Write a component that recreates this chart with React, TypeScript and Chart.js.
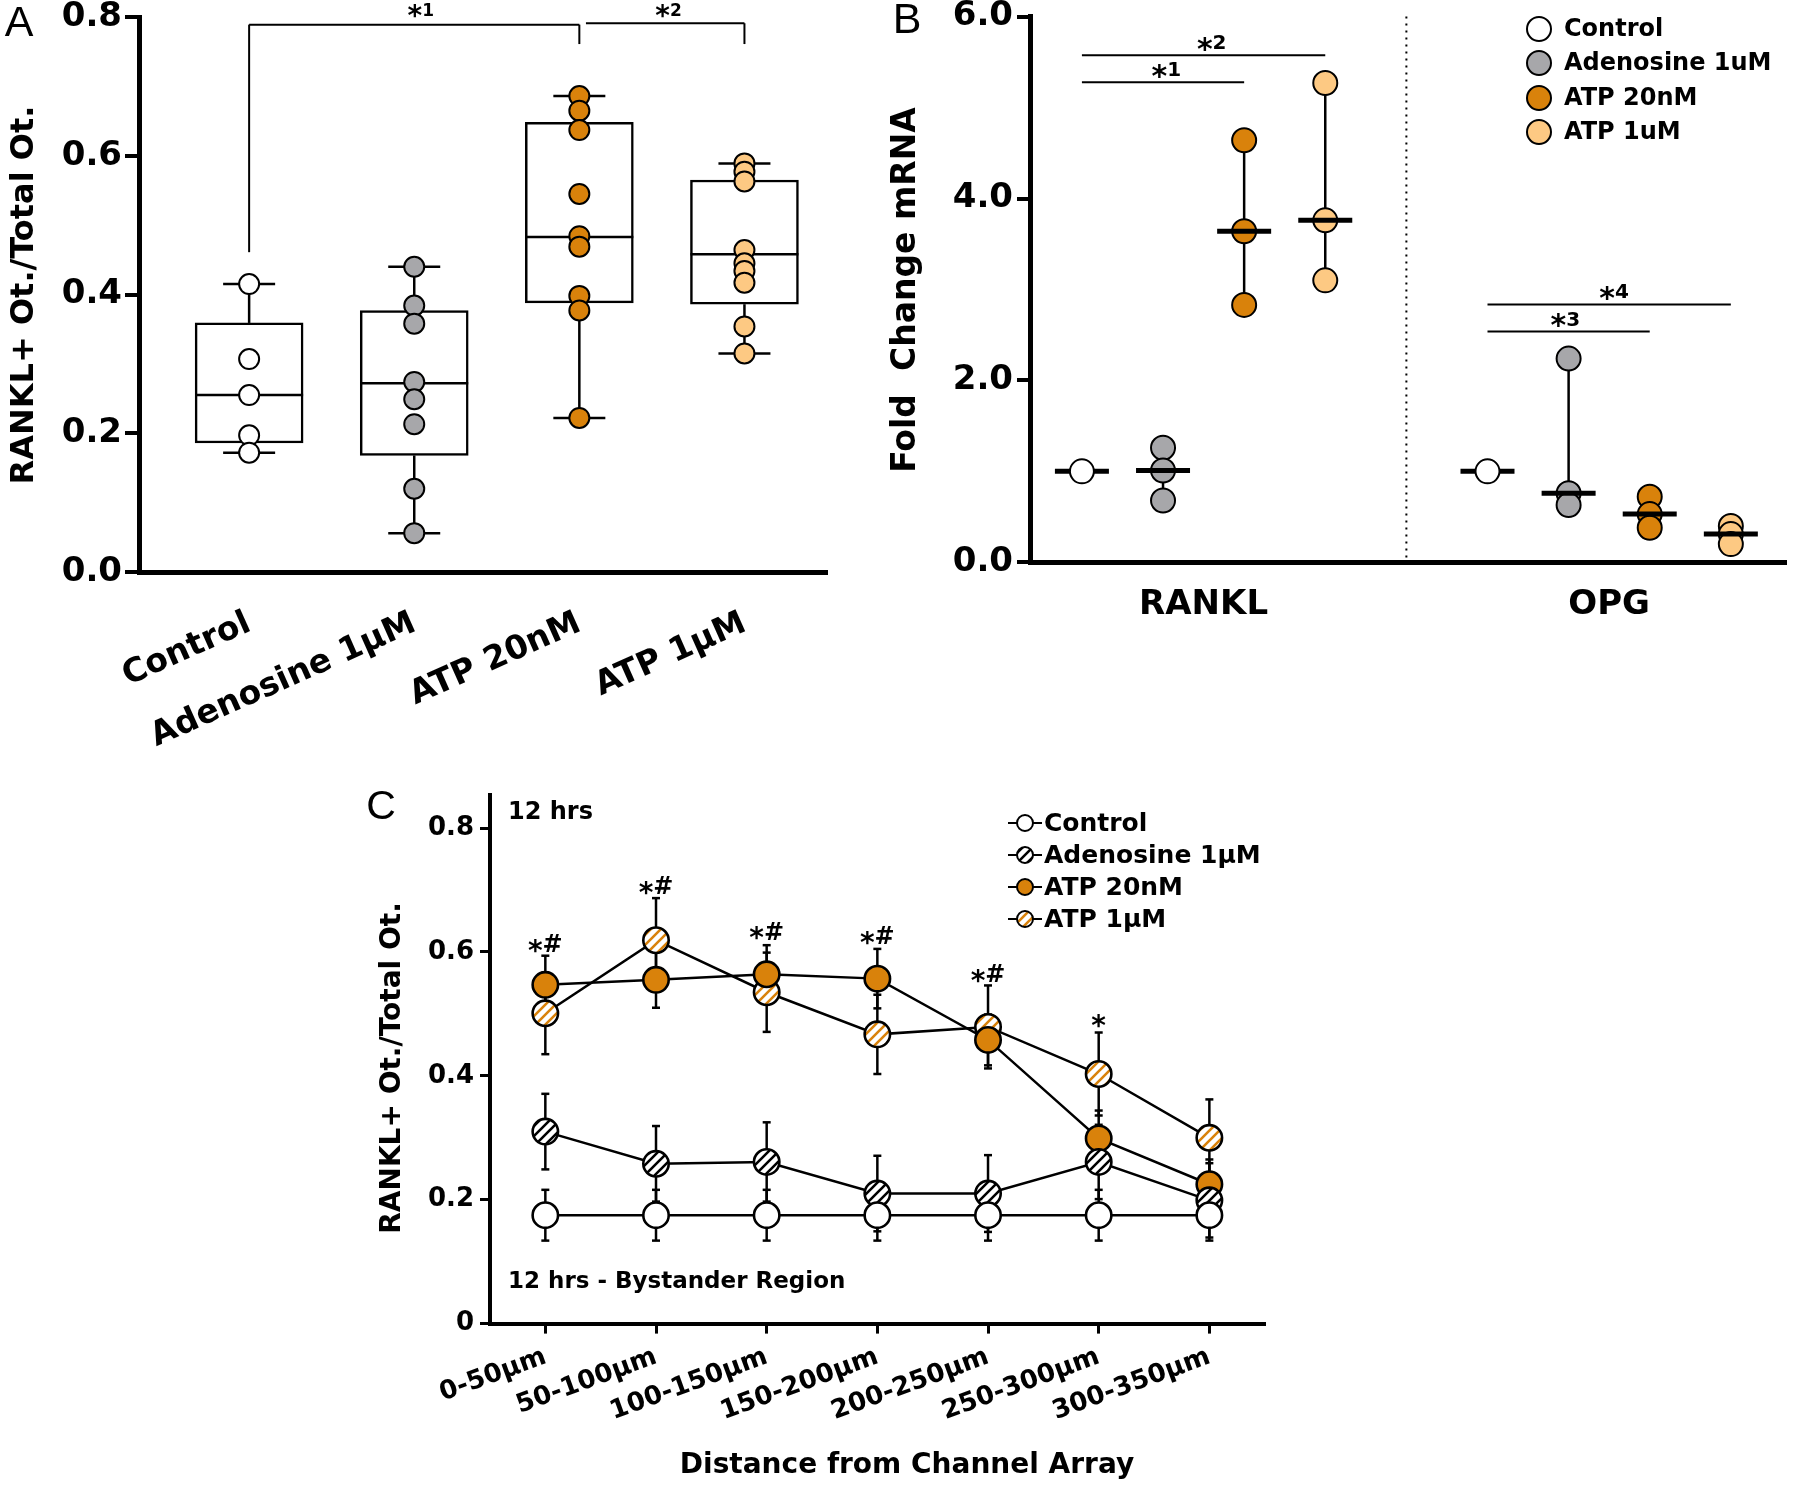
import React, { useEffect, useRef } from 'react';
import { Chart, registerables } from 'chart.js';

Chart.register(...registerables);

const FONT = '"DejaVu Sans", "Liberation Sans", Arial, sans-serif';
const LETTER_FONT = '"Liberation Sans", Arial, Helvetica, sans-serif';
const BLACK = '#000000';
const WHITE = '#ffffff';
const GRAY = '#a7a7aa';
const ORANGE = '#d9820b';
const LIGHT_ORANGE = '#fdc983';

// ===== Panel A : box plots =====
const A_GROUPS = ['Control', 'Adenosine 1μM', 'ATP 20nM', 'ATP 1μM'];
const A_CONTROL = [0.415, 0.307, 0.255, 0.197, 0.172];
const A_ADENOSINE = [0.44, 0.384, 0.358, 0.274, 0.249, 0.213, 0.12, 0.056];
const A_ATP_20NM = [0.686, 0.665, 0.637, 0.545, 0.484, 0.469, 0.398, 0.377, 0.222];
const A_ATP_1UM = [0.589, 0.577, 0.563, 0.464, 0.445, 0.434, 0.417, 0.354, 0.315];
const A_MIN = [0.172, 0.056, 0.222, 0.315];
const A_Q1 = [0.186, 0.168, 0.388, 0.386];
const A_MEDIAN = [0.255, 0.272, 0.483, 0.458];
const A_Q3 = [0.359, 0.377, 0.648, 0.565];
const A_MAX = [0.415, 0.44, 0.686, 0.589];
const A_Y_TICKS = [0, 0.2, 0.4, 0.6, 0.8];
const A_SIG_LABELS = ['*1', '*2'];
const A_SIG_FROM = [0, 2.04];
const A_SIG_TO = [2, 3];
const A_SIG_LEVEL = [0.789, 0.791];
const A_SIG_LEFT_END = [0.461, 0.791];
const A_SIG_RIGHT_END = [0.761, 0.761];
const A_SIG_LABEL_X = [1.04, 2.54];
const A_SIG_LABEL_Y = [0.808, 0.808];

// ===== Panel B : fold change mRNA =====
const B_GENES = ['RANKL', 'OPG'];
const B_SERIES = ['Control', 'Adenosine 1uM', 'ATP 20nM', 'ATP 1uM'];
const B_CONTROL = [[1.0], [1.0]];
const B_ADENOSINE = [[1.26, 1.01, 0.68], [2.24, 0.76, 0.63]];
const B_ATP_20NM = [[4.64, 3.64, 2.83], [0.72, 0.53, 0.38]];
const B_ATP_1UM = [[5.27, 3.76, 3.1], [0.4, 0.31, 0.2]];
const B_MEDIAN_RANKL = [1.0, 1.01, 3.64, 3.76];
const B_MEDIAN_OPG = [1.0, 0.76, 0.53, 0.31];
const B_Y_TICKS = [0, 2, 4, 6];
const B_SIG_LABELS = ['*1', '*2', '*3', '*4'];
const B_SIG_FROM = [0, 0, 5, 5];
const B_SIG_TO = [2, 3, 7, 8];
const B_SIG_LEVEL = [5.278, 5.574, 2.539, 2.835];
const B_SIG_LABEL_X = [1.04, 1.6, 5.96, 6.56];
const B_SIG_LABEL_Y = [5.4, 5.7, 2.66, 2.96];

// ===== Panel C : distance profile =====
const C_BINS = ['0-50μm', '50-100μm', '100-150μm', '150-200μm', '200-250μm', '250-300μm', '300-350μm'];
const C_SERIES = ['Control', 'Adenosine 1μM', 'ATP 20nM', 'ATP 1μM'];
const C_CONTROL = [0.175, 0.175, 0.175, 0.175, 0.175, 0.175, 0.175];
const C_CONTROL_SEM = [0.041, 0.041, 0.041, 0.041, 0.041, 0.041, 0.041];
const C_ADENOSINE = [0.31, 0.258, 0.261, 0.21, 0.21, 0.261, 0.199];
const C_ADENOSINE_SEM = [0.061, 0.061, 0.064, 0.061, 0.062, 0.06, 0.06];
const C_ATP_20NM = [0.547, 0.555, 0.564, 0.557, 0.458, 0.299, 0.225];
const C_ATP_20NM_SEM = [0.047, 0.045, 0.047, 0.048, 0.041, 0.045, 0.04];
const C_ATP_1UM = [0.501, 0.619, 0.535, 0.467, 0.479, 0.403, 0.3];
const C_ATP_1UM_SEM = [0.066, 0.068, 0.064, 0.064, 0.067, 0.067, 0.062];
const C_SIG = ['*#', '*#', '*#', '*#', '*#', '*', ''];
const C_SIG_Y = [0.61, 0.704, 0.63, 0.623, 0.561, 0.488, 0];
const C_Y_TICKS = [0, 0.2, 0.4, 0.6, 0.8];

type Cfg = any;

function seg(ctx: CanvasRenderingContext2D, x1: number, y1: number, x2: number, y2: number) {
  ctx.beginPath();
  ctx.moveTo(x1, y1);
  ctx.lineTo(x2, y2);
  ctx.stroke();
}

function text(
  ctx: CanvasRenderingContext2D,
  s: string,
  x: number,
  y: number,
  size: number,
  opts: { weight?: string; align?: CanvasTextAlign; baseline?: CanvasTextBaseline; rotate?: number; family?: string } = {}
) {
  ctx.save();
  ctx.font = `${opts.weight ?? 'bold'} ${size}px ${opts.family ?? FONT}`;
  ctx.fillStyle = BLACK;
  ctx.textAlign = opts.align ?? 'center';
  ctx.textBaseline = opts.baseline ?? 'middle';
  ctx.translate(x, y);
  if (opts.rotate) ctx.rotate(opts.rotate);
  ctx.fillText(s, 0, 0);
  ctx.restore();
}

function sigLabel(ctx: CanvasRenderingContext2D, s: string, cx: number, cy: number, starSize: number, restSize: number) {
  const star = s.slice(0, 1);
  const rest = s.slice(1);
  ctx.save();
  ctx.font = `bold ${starSize}px ${FONT}`;
  const w1 = ctx.measureText(star).width;
  ctx.font = `bold ${restSize}px ${FONT}`;
  const w2 = rest ? ctx.measureText(rest).width : 0;
  const x0 = cx - (w1 + w2) / 2;
  ctx.fillStyle = BLACK;
  ctx.textAlign = 'left';
  ctx.textBaseline = 'middle';
  ctx.font = `bold ${starSize}px ${FONT}`;
  ctx.fillText(star, x0, cy + starSize * 0.24);
  if (rest) {
    ctx.font = `bold ${restSize}px ${FONT}`;
    ctx.fillText(rest, x0 + w1, cy);
  }
  ctx.restore();
}

function dot(ctx: CanvasRenderingContext2D, x: number, y: number, r: number, fill: any, bw: number) {
  ctx.beginPath();
  ctx.arc(x, y, r, 0, Math.PI * 2);
  ctx.fillStyle = fill;
  ctx.fill();
  ctx.lineWidth = bw;
  ctx.strokeStyle = BLACK;
  ctx.stroke();
}

function stripes(canvas: HTMLCanvasElement, color: string) {
  const size = 10;
  const c = document.createElement('canvas');
  c.width = size;
  c.height = size;
  const g = c.getContext('2d')!;
  g.fillStyle = WHITE;
  g.fillRect(0, 0, size, size);
  g.strokeStyle = color;
  g.lineWidth = 2.6;
  g.beginPath();
  g.moveTo(-2, size + 2);
  g.lineTo(size + 2, -2);
  g.moveTo(-3, 3);
  g.lineTo(3, -3);
  g.moveTo(size - 3, size + 3);
  g.lineTo(size + 3, size - 3);
  g.stroke();
  return canvas.getContext('2d')!.createPattern(c, 'repeat');
}

const tickFont = (size: number) => ({ family: FONT, size, weight: 'bold' as const });

function buildA(): Cfg {
  const series = [A_CONTROL, A_ADENOSINE, A_ATP_20NM, A_ATP_1UM];
  const fills = [WHITE, GRAY, ORANGE, LIGHT_ORANGE];
  const plugin = {
    id: 'panelA',
    afterDatasetDraw(chart: any, args: any) {
      if (args.index !== 0) return;
      const { ctx } = chart;
      const xs = chart.scales.x;
      const ys = chart.scales.y;
      ctx.save();
      ctx.strokeStyle = BLACK;
      ctx.lineWidth = 2.5;
      A_GROUPS.forEach((_, i) => {
        const cx = xs.getPixelForValue(i);
        const yMax = ys.getPixelForValue(A_MAX[i]);
        const yMin = ys.getPixelForValue(A_MIN[i]);
        seg(ctx, cx, ys.getPixelForValue(A_Q3[i]), cx, yMax);
        seg(ctx, cx, ys.getPixelForValue(A_Q1[i]), cx, yMin);
        seg(ctx, cx - 26, yMax, cx + 26, yMax);
        seg(ctx, cx - 26, yMin, cx + 26, yMin);
        const ym = ys.getPixelForValue(A_MEDIAN[i]);
        seg(ctx, cx - 54, ym, cx + 54, ym);
      });
      ctx.restore();
    },
    afterDraw(chart: any) {
      const { ctx } = chart;
      const xs = chart.scales.x;
      const ys = chart.scales.y;
      ctx.save();
      ctx.strokeStyle = BLACK;
      ctx.lineWidth = 2;
      A_SIG_LABELS.forEach((lab, i) => {
        const x1 = xs.getPixelForValue(A_SIG_FROM[i]);
        const x2 = xs.getPixelForValue(A_SIG_TO[i]);
        const yl = ys.getPixelForValue(A_SIG_LEVEL[i]);
        seg(ctx, x1, yl, x2, yl);
        seg(ctx, x1, yl, x1, ys.getPixelForValue(A_SIG_LEFT_END[i]));
        seg(ctx, x2, yl, x2, ys.getPixelForValue(A_SIG_RIGHT_END[i]));
        sigLabel(ctx, lab, xs.getPixelForValue(A_SIG_LABEL_X[i]), ys.getPixelForValue(A_SIG_LABEL_Y[i]), 28, 17);
      });
      ctx.restore();
      text(ctx, 'RANKL+ Ot./Total Ot.', 25, 295, 32, { rotate: -Math.PI / 2 });
      text(ctx, 'A', 19, 24, 43, { weight: 'normal', family: LETTER_FONT });
    },
  };
  return {
    type: 'scatter',
    data: {
      datasets: [
        {
          type: 'bar',
          label: 'IQR',
          data: A_Q1.map((q, i) => ({ x: i, y: [q, A_Q3[i]] })),
          backgroundColor: WHITE,
          borderColor: BLACK,
          borderWidth: 2.5,
          borderSkipped: false,
          barThickness: 108,
          order: 10,
        },
        ...series.map((vals, i) => ({
          type: 'scatter',
          label: A_GROUPS[i],
          data: vals.map((v) => ({ x: i, y: v })),
          pointRadius: 10,
          pointBorderWidth: 2,
          pointBackgroundColor: fills[i],
          pointBorderColor: BLACK,
          order: 1,
        })),
      ],
    },
    options: {
      responsive: false,
      animation: false,
      devicePixelRatio: 1,
      events: [],
      layout: { padding: { left: 0, top: 17, right: 13, bottom: 0 } },
      plugins: { legend: { display: false }, tooltip: { enabled: false } },
      scales: {
        x: {
          type: 'linear',
          min: -0.667,
          max: 3.5,
          offset: false,
          afterBuildTicks: (s: any) => {
            s.ticks = A_GROUPS.map((_, i) => ({ value: i }));
          },
          afterFit: (s: any) => {
            s.height = 198;
            s.paddingLeft = 0;
            s.paddingRight = 0;
          },
          grid: { display: false, drawTicks: false, offset: false },
          border: { display: true, color: BLACK, width: 5 },
          ticks: {
            autoSkip: false,
            minRotation: 24,
            maxRotation: 24,
            padding: 32,
            color: BLACK,
            font: tickFont(33),
            callback: (_v: any, i: number) => A_GROUPS[i],
          },
        },
        y: {
          type: 'linear',
          min: 0,
          max: 0.8,
          afterBuildTicks: (s: any) => {
            s.ticks = A_Y_TICKS.map((v) => ({ value: v }));
          },
          afterFit: (s: any) => {
            s.width = 139;
            s.paddingTop = 0;
            s.paddingBottom = 0;
          },
          grid: { drawOnChartArea: false, drawTicks: true, tickLength: 14, lineWidth: 4, color: BLACK },
          border: { display: true, color: BLACK, width: 5 },
          ticks: { padding: 3, color: BLACK, font: tickFont(34), callback: (v: any) => Number(v).toFixed(1) },
        },
      },
    },
    plugins: [plugin],
  };
}

function buildB(): Cfg {
  const series = [B_CONTROL, B_ADENOSINE, B_ATP_20NM, B_ATP_1UM];
  const fills = [WHITE, GRAY, ORANGE, LIGHT_ORANGE];
  const medians = [B_MEDIAN_RANKL, B_MEDIAN_OPG];
  const pos = (g: number, s: number) => g * 5 + s;
  const drawMedians = (chart: any, from: number, to: number) => {
    const { ctx } = chart;
    const xs = chart.scales.x;
    const ys = chart.scales.y;
    ctx.save();
    ctx.strokeStyle = BLACK;
    ctx.lineWidth = 5;
    medians.forEach((arr, g) => {
      for (let s = from; s <= to; s++) {
        const cx = xs.getPixelForValue(pos(g, s));
        const y = ys.getPixelForValue(arr[s]);
        seg(ctx, cx - 27, y, cx + 27, y);
      }
    });
    ctx.restore();
  };
  const plugin = {
    id: 'panelB',
    beforeDatasetsDraw(chart: any) {
      const { ctx } = chart;
      const xs = chart.scales.x;
      const ys = chart.scales.y;
      ctx.save();
      ctx.strokeStyle = BLACK;
      ctx.lineWidth = 2;
      ctx.setLineDash([2, 5]);
      const dx = xs.getPixelForValue(4);
      seg(ctx, dx, ys.getPixelForValue(6), dx, ys.getPixelForValue(0));
      ctx.setLineDash([]);
      ctx.lineWidth = 2.5;
      series.forEach((byGene, s) => {
        byGene.forEach((vals, g) => {
          const cx = xs.getPixelForValue(pos(g, s));
          seg(ctx, cx, ys.getPixelForValue(Math.max(...vals)), cx, ys.getPixelForValue(Math.min(...vals)));
        });
      });
      ctx.restore();
      drawMedians(chart, 0, 0);
    },
    afterDatasetsDraw(chart: any) {
      drawMedians(chart, 1, 3);
    },
    afterDraw(chart: any) {
      const { ctx } = chart;
      const xs = chart.scales.x;
      const ys = chart.scales.y;
      ctx.save();
      ctx.strokeStyle = BLACK;
      ctx.lineWidth = 2;
      B_SIG_LABELS.forEach((lab, i) => {
        const y = ys.getPixelForValue(B_SIG_LEVEL[i]);
        seg(ctx, xs.getPixelForValue(B_SIG_FROM[i]), y, xs.getPixelForValue(B_SIG_TO[i]), y);
        sigLabel(ctx, lab, xs.getPixelForValue(B_SIG_LABEL_X[i]), ys.getPixelForValue(B_SIG_LABEL_Y[i]), 30, 20);
      });
      const rows = [29, 63, 98, 132];
      B_SERIES.forEach((name, i) => {
        dot(ctx, 659, rows[i], 12, fills[i], 2);
        text(ctx, name, 684, rows[i] + 1, 24, { align: 'left' });
      });
      ctx.restore();
      text(ctx, 'Fold  Change mRNA', 26, 290, 33, { rotate: -Math.PI / 2 });
      text(ctx, 'B', 27, 21, 43, { weight: 'normal', family: LETTER_FONT });
    },
  };
  return {
    type: 'scatter',
    data: {
      datasets: series.map((byGene, s) => ({
        label: B_SERIES[s],
        data: byGene.flatMap((vals, g) => vals.map((v) => ({ x: pos(g, s), y: v }))),
        pointRadius: 12,
        pointBorderWidth: 2,
        pointBackgroundColor: fills[s],
        pointBorderColor: BLACK,
      })),
    },
    options: {
      responsive: false,
      animation: false,
      devicePixelRatio: 1,
      events: [],
      layout: { padding: { left: 0, top: 16.6, right: 3, bottom: 0 } },
      plugins: { legend: { display: false }, tooltip: { enabled: false } },
      scales: {
        x: {
          type: 'linear',
          min: -0.64,
          max: 8.68,
          offset: false,
          afterBuildTicks: (s: any) => {
            s.ticks = B_GENES.map((_, g) => ({ value: pos(g, 1.5) }));
          },
          afterFit: (s: any) => {
            s.height = 87.7;
            s.paddingLeft = 0;
            s.paddingRight = 0;
          },
          grid: { display: false, drawTicks: false },
          border: { display: true, color: BLACK, width: 5 },
          ticks: { autoSkip: false, maxRotation: 0, padding: 22, color: BLACK, font: tickFont(34), callback: (_v: any, i: number) => B_GENES[i] },
        },
        y: {
          type: 'linear',
          min: 0,
          max: 6,
          afterBuildTicks: (s: any) => {
            s.ticks = B_Y_TICKS.map((v) => ({ value: v }));
          },
          afterFit: (s: any) => {
            s.width = 150;
            s.paddingTop = 0;
            s.paddingBottom = 0;
          },
          grid: { drawOnChartArea: false, drawTicks: true, tickLength: 13, lineWidth: 4, color: BLACK },
          border: { display: true, color: BLACK, width: 5 },
          ticks: { padding: 4, color: BLACK, font: tickFont(34), callback: (v: any) => Number(v).toFixed(1) },
        },
      },
    },
    plugins: [plugin],
  };
}

function buildC(canvas: HTMLCanvasElement): Cfg {
  const blackStripes = stripes(canvas, BLACK);
  const orangeStripes = stripes(canvas, ORANGE);
  const values = [C_CONTROL, C_ADENOSINE, C_ATP_20NM, C_ATP_1UM];
  const sems = [C_CONTROL_SEM, C_ADENOSINE_SEM, C_ATP_20NM_SEM, C_ATP_1UM_SEM];
  const fills: any[] = [WHITE, blackStripes, ORANGE, orangeStripes];
  const plugin = {
    id: 'panelC',
    beforeDatasetsDraw(chart: any) {
      const { ctx } = chart;
      const xs = chart.scales.x;
      const ys = chart.scales.y;
      ctx.save();
      ctx.strokeStyle = BLACK;
      ctx.lineWidth = 2.5;
      values.forEach((vals, s) => {
        vals.forEach((v, i) => {
          const cx = xs.getPixelForValue(i);
          const yt = ys.getPixelForValue(v + sems[s][i]);
          const yb = ys.getPixelForValue(v - sems[s][i]);
          seg(ctx, cx, yt, cx, yb);
          seg(ctx, cx - 4, yt, cx + 4, yt);
          seg(ctx, cx - 4, yb, cx + 4, yb);
        });
      });
      ctx.restore();
    },
    afterDraw(chart: any) {
      const { ctx } = chart;
      const xs = chart.scales.x;
      const ys = chart.scales.y;
      C_SIG.forEach((lab, i) => {
        if (!lab) return;
        sigLabel(ctx, lab, xs.getPixelForValue(i), ys.getPixelForValue(C_SIG_Y[i]), 28, 24);
      });
      ctx.save();
      const rows = [43, 75, 107, 139];
      C_SERIES.forEach((name, i) => {
        ctx.strokeStyle = BLACK;
        ctx.lineWidth = 2;
        seg(ctx, 648, rows[i], 682, rows[i]);
        dot(ctx, 665, rows[i], 8, fills[i], 2);
        text(ctx, name, 684, rows[i] + 1, 25, { align: 'left' });
      });
      ctx.restore();
      text(ctx, '12 hrs', 148, 33, 24, { align: 'left' });
      text(ctx, '12 hrs - Bystander Region', 148, 502, 23, { align: 'left' });
      text(ctx, 'RANKL+ Ot./Total Ot.', 33, 288, 28, { rotate: -Math.PI / 2 });
      text(ctx, 'Distance from Channel Array', 547, 686, 28);
      text(ctx, 'C', 21, 28, 41, { weight: 'normal', family: LETTER_FONT });
    },
  };
  return {
    type: 'line',
    data: {
      labels: C_BINS,
      datasets: values.map((vals, s) => ({
        label: C_SERIES[s],
        data: vals,
        borderColor: BLACK,
        borderWidth: 2.5,
        tension: 0,
        fill: false,
        pointRadius: 12.7,
        pointBorderWidth: 2.6,
        pointBorderColor: BLACK,
        pointBackgroundColor: fills[s],
      })),
    },
    options: {
      responsive: false,
      animation: false,
      devicePixelRatio: 1,
      events: [],
      layout: { padding: { left: 0, top: 10.6, right: 14, bottom: 0 } },
      plugins: { legend: { display: false }, tooltip: { enabled: false } },
      scales: {
        x: {
          type: 'category',
          offset: true,
          afterFit: (s: any) => {
            s.height = 162.4;
            s.paddingLeft = 0;
            s.paddingRight = 0;
          },
          grid: { drawOnChartArea: false, drawTicks: true, tickLength: 10, lineWidth: 3, color: BLACK, offset: false },
          border: { display: true, color: BLACK, width: 4 },
          ticks: { autoSkip: false, minRotation: 20, maxRotation: 20, padding: 8, color: BLACK, font: tickFont(26) },
        },
        y: {
          type: 'linear',
          min: 0,
          max: 0.853,
          afterBuildTicks: (s: any) => {
            s.ticks = C_Y_TICKS.map((v) => ({ value: v }));
          },
          afterFit: (s: any) => {
            s.width = 130;
            s.paddingTop = 0;
            s.paddingBottom = 0;
          },
          grid: { drawOnChartArea: false, drawTicks: true, tickLength: 10, lineWidth: 3, color: BLACK },
          border: { display: true, color: BLACK, width: 4 },
          ticks: { padding: 6, color: BLACK, font: tickFont(26), callback: (v: any) => (Number(v) === 0 ? '0' : Number(v).toFixed(1)) },
        },
      },
    },
    plugins: [plugin],
  };
}

function Panel({ left, top, width, height, build }: { left: number; top: number; width: number; height: number; build: (c: HTMLCanvasElement) => Cfg }) {
  const ref = useRef<HTMLCanvasElement | null>(null);
  useEffect(() => {
    if (!ref.current) return;
    const chart = new Chart(ref.current, build(ref.current));
    return () => chart.destroy();
  }, [build]);
  return (
    <canvas
      ref={ref}
      width={width}
      height={height}
      style={{ position: 'absolute', left, top, width, height, display: 'block' }}
    />
  );
}

export default function App() {
  return (
    <div style={{ position: 'absolute', left: 0, top: 0, width: 1800, height: 1486, background: WHITE, overflow: 'hidden' }}>
      <Panel left={0} top={0} width={840} height={770} build={buildA} />
      <Panel left={880} top={0} width={920} height={650} build={buildB} />
      <Panel left={360} top={780} width={920} height={706} build={buildC} />
    </div>
  );
}
